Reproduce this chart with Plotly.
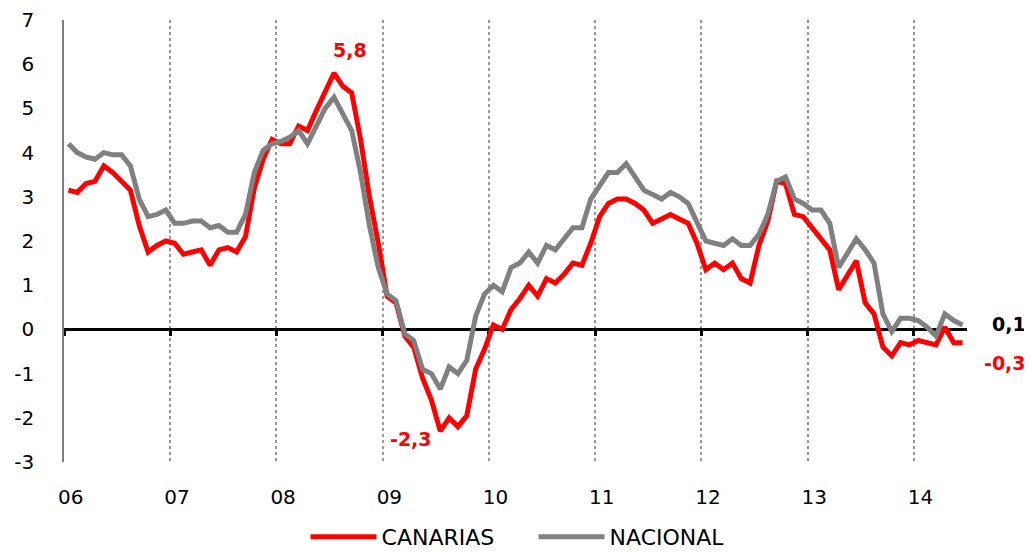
import plotly.graph_objects as go

# Monthly data, Jan 2006 - Jun 2014 (annual CPI change, %)
canarias = [
    3.15, 3.1, 3.3, 3.35, 3.7, 3.55, 3.35, 3.15, 2.35, 1.75, 1.9, 2.0,
    1.95, 1.7, 1.75, 1.8, 1.45, 1.8, 1.85, 1.75, 2.1, 3.2, 3.85, 4.3,
    4.2, 4.2, 4.6, 4.5, 4.95, 5.35, 5.8, 5.5, 5.35, 4.3, 3.0, 1.95,
    0.75, 0.6, -0.15, -0.4, -1.1, -1.6, -2.3, -2.0, -2.2, -1.95, -0.9, -0.45,
    0.1, 0.0, 0.45, 0.7, 1.0, 0.75, 1.15, 1.05, 1.25, 1.5, 1.45, 1.95,
    2.55, 2.85, 2.95, 2.95, 2.85, 2.7, 2.4, 2.5, 2.6, 2.5, 2.4, 1.95,
    1.35, 1.5, 1.35, 1.5, 1.15, 1.05, 1.9, 2.45, 3.35, 3.3, 2.6, 2.55,
    2.3, 2.05, 1.8, 0.9, 1.25, 1.55, 0.6, 0.35, -0.4, -0.6, -0.3, -0.35,
    -0.25, -0.3, -0.35, 0.05, -0.3, -0.3,
]
nacional = [
    4.2, 4.0, 3.9, 3.85, 4.0, 3.95, 3.95, 3.7, 2.95, 2.55, 2.6, 2.7,
    2.4, 2.4, 2.45, 2.45, 2.3, 2.35, 2.2, 2.2, 2.6, 3.55, 4.05, 4.2,
    4.25, 4.35, 4.5, 4.2, 4.6, 5.0, 5.25, 4.9, 4.5, 3.55, 2.35, 1.4,
    0.8, 0.65, -0.1, -0.25, -0.9, -1.0, -1.35, -0.85, -1.0, -0.7, 0.3, 0.8,
    1.0, 0.85, 1.4, 1.5, 1.75, 1.5, 1.9, 1.8, 2.05, 2.3, 2.3, 2.95,
    3.25, 3.55, 3.55, 3.75, 3.45, 3.15, 3.05, 2.95, 3.1, 3.0, 2.85, 2.4,
    2.0, 1.95, 1.9, 2.05, 1.9, 1.9, 2.15, 2.6, 3.35, 3.45, 2.95, 2.85,
    2.7, 2.7, 2.4, 1.4, 1.75, 2.05, 1.8, 1.5, 0.35, -0.05, 0.25, 0.25,
    0.2, 0.05, -0.15, 0.35, 0.2, 0.1,
]
year_labels = ["06", "07", "08", "09", "10", "11", "12", "13", "14"]
y_ticks = [-3, -2, -1, 0, 1, 2, 3, 4, 5, 6, 7]

RED = "#FF0000"
GRAY = "#808080"
FONT = "DejaVu Sans"

n = len(canarias)
xs = [i + 0.5 for i in range(n)]
year_pos = [12 * k for k in range(len(year_labels))]

fig = go.Figure()
# invisible carrier so the bottom label axis is drawn
fig.add_trace(go.Scatter(x=xs, y=canarias, mode="lines", showlegend=False,
                         hoverinfo="skip", opacity=0, line=dict(width=0),
                         xaxis="x", yaxis="y"))
fig.add_trace(go.Scatter(x=xs, y=canarias, mode="lines", name="CANARIAS",
                         line=dict(color=RED, width=5), xaxis="x2", yaxis="y"))
fig.add_trace(go.Scatter(x=xs, y=nacional, mode="lines", name="NACIONAL",
                         line=dict(color=GRAY, width=5), xaxis="x2", yaxis="y"))

def fmt(v):
    return f"{v:.1f}".replace(".", ",")

i_max = max(range(n), key=lambda i: canarias[i])
i_min = min(range(n), key=lambda i: canarias[i])
annots = [
    dict(x=xs[i_max], y=canarias[i_max], text=fmt(canarias[i_max]), xshift=16, yshift=23,
         font=dict(color=RED, size=19, family=FONT, weight="bold")),
    dict(x=xs[i_min], y=canarias[i_min], text=fmt(canarias[i_min]), xshift=-29, yshift=-8,
         font=dict(color=RED, size=19, family=FONT, weight="bold")),
    dict(x=xs[-1], y=nacional[-1], text=fmt(nacional[-1]), xshift=46, yshift=1,
         font=dict(color="black", size=19, family=FONT, weight="bold")),
    dict(x=xs[-1], y=canarias[-1], text=fmt(canarias[-1]), xshift=42, yshift=-20,
         font=dict(color=RED, size=19, family=FONT, weight="bold")),
]
for a in annots:
    a.update(showarrow=False, xref="x", yref="y")

# page body adds an 8px offset, so the figure is 8px smaller on each axis
fig.update_layout(
    width=1024, height=544,
    margin=dict(l=56, r=65, t=12, b=90),
    paper_bgcolor="white", plot_bgcolor="white",
    font=dict(family=FONT, size=20, color="black"),
    annotations=annots,
    showlegend=True,
    legend=dict(orientation="h", xref="container", yref="container",
                x=0.5132, xanchor="center", y=0.0276, yanchor="middle",
                font=dict(size=22, family=FONT, color="black"), itemwidth=66,
                entrywidth=147, entrywidthmode="pixels",
                bgcolor="rgba(0,0,0,0)"),
    xaxis=dict(range=[0, n], tickvals=[p + 0.75 for p in year_pos], ticktext=year_labels,
               showgrid=False, zeroline=False, showline=False, ticks="",
               ticklabelstandoff=21, tickfont=dict(size=20, family=FONT), automargin=False),
    xaxis2=dict(range=[0, n], overlaying="x", matches="x", anchor="free", position=0.3,
                tickvals=year_pos, showticklabels=False,
                showgrid=True, gridcolor="#999999", gridwidth=1.5, griddash="dot",
                showline=True, linecolor="black", linewidth=3,
                ticks="outside", ticklen=5, tickwidth=3, tickcolor="black",
                layer="below traces", automargin=False),
    yaxis=dict(range=[-3, 7], tickvals=y_ticks, ticktext=[str(v) for v in y_ticks],
               showgrid=False, zeroline=False,
               showline=True, linecolor=GRAY, linewidth=1.5, ticks="",
               ticklabelstandoff=24, tickfont=dict(size=20, family=FONT), automargin=False),
)

fig.write_html("out.html")
